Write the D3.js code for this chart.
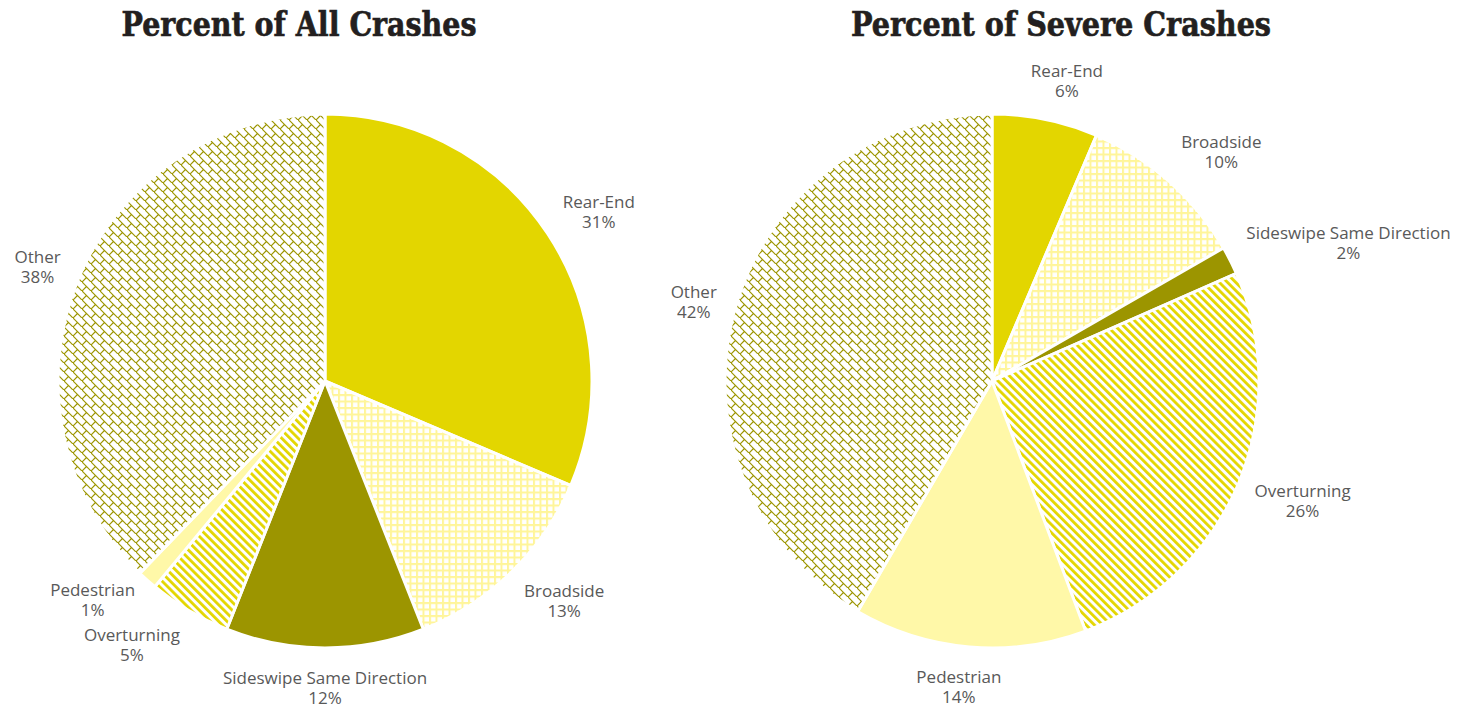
<!DOCTYPE html>
<html>
<head>
<meta charset="utf-8">
<script src="https://cdn.jsdelivr.net/npm/d3@7"></script>
<style>
  body { margin: 0; background: #fff; }
  .lbl { font-family: "Open Sans", sans-serif; font-size: 17px; fill: #595959; }
  .title { font-family: "DejaVu Serif", serif; font-weight: bold; fill: #231f20; stroke: #231f20; stroke-width: 0.7px; }
</style>
</head>
<body>
<div id="chart"></div>
<script>
const width = 1471;
const height = 708;

// data
const categories = ["Rear-End", "Broadside", "Sideswipe Same Direction", "Overturning", "Pedestrian", "Other"];
const allCrashes = [31.4, 12.6, 12.0, 5.0, 1.2, 37.8];
const severeCrashes = [6.4, 10.3, 1.7, 25.9, 14.1, 41.6];
const chartTitles = ["Percent of All Crashes", "Percent of Severe Crashes"];

const fills = ["#e3d600", "url(#grid)", "#9c9500", "url(#stripes)", "#fff8a8", "url(#brick)"];

const svg = d3.select("#chart")
  .append("svg")
  .attr("width", width)
  .attr("height", height);

// patterns
const defs = svg.append("defs");

const grid = defs.append("pattern")
  .attr("id", "grid")
  .attr("patternUnits", "userSpaceOnUse")
  .attr("width", 6.5).attr("height", 6.5);
grid.append("rect").attr("width", 6.5).attr("height", 6.5).attr("fill", "#fff");
grid.append("path").attr("d", "M0,1H6.5M1,0V6.5").attr("stroke", "#fff59a").attr("stroke-width", 2);

const stripes = defs.append("pattern")
  .attr("id", "stripes")
  .attr("patternUnits", "userSpaceOnUse")
  .attr("width", 10).attr("height", 5.8)
  .attr("patternTransform", "rotate(45)");
stripes.append("rect").attr("width", 10).attr("height", 5.8).attr("fill", "#fff");
stripes.append("path").attr("d", "M0,1.5H10").attr("stroke", "#e3d600").attr("stroke-width", 2.8);

const brick = defs.append("pattern")
  .attr("id", "brick")
  .attr("patternUnits", "userSpaceOnUse")
  .attr("width", 9).attr("height", 9);
brick.append("rect").attr("width", 9).attr("height", 9).attr("fill", "#fff");
brick.append("path").attr("d", "M0,0L9,9M0,9L4.5,4.5")
  .attr("stroke", "#9c9500").attr("stroke-width", 1.2).attr("fill", "none");

const radius = 267;
const centers = [[325, 381], [992, 381]];
const titleX = [299, 1061];
const titleW = [355, 420];

const pie = d3.pie().sort(null).value(d => d.value);
const arc = d3.arc().innerRadius(0).outerRadius(radius);

[allCrashes, severeCrashes].forEach((values, i) => {
  const data = categories.map((c, j) => ({ name: c, value: values[j], fill: fills[j] }));

  svg.append("text")
    .attr("class", "title")
    .attr("x", titleX[i])
    .attr("y", 36)
    .attr("text-anchor", "middle")
    .attr("font-size", 34)
    .attr("textLength", titleW[i])
    .attr("lengthAdjust", "spacingAndGlyphs")
    .text(chartTitles[i]);

  const g = svg.append("g")
    .attr("transform", `translate(${centers[i][0]}, ${centers[i][1]})`);

  const arcs = pie(data);

  g.selectAll("path.slice")
    .data(arcs)
    .join("path")
    .attr("class", "slice")
    .attr("d", arc)
    .attr("fill", d => d.data.fill)
    .attr("stroke", "#fff")
    .attr("stroke-width", 3);

  // labels outside the slices
  const labels = g.selectAll("text.lbl")
    .data(arcs)
    .join("text")
    .attr("class", "lbl")
    .attr("text-anchor", "middle");

  labels.append("tspan").attr("x", 0).attr("dy", 0).text(d => d.data.name);
  labels.append("tspan").attr("x", 0).attr("dy", 20).text(d => Math.round(d.data.value) + "%");

  const placed = [];
  labels.each(function(d) {
    const box = this.getBBox();
    const a = (d.startAngle + d.endAngle) / 2;
    const R = radius + 18;
    const kx = Math.max(-1, Math.min(1, Math.sin(a) * 2.5));
    const cx = Math.sin(a) * R + kx * box.width / 2;
    const cy = -Math.cos(a) * (R + box.height / 2);
    placed.push({ node: this, cx, cy, w: box.width, h: box.height, boxCy: box.y + box.height / 2, left: Math.sin(a) < 0 });
  });

  // push overlapping labels on the left side upward
  const leftSide = placed.filter(p => p.left).sort((p, q) => q.cy - p.cy);
  for (let k = 1; k < leftSide.length; k++) {
    const lo = leftSide[k - 1], up = leftSide[k];
    const overlapX = Math.abs(lo.cx - up.cx) < (lo.w + up.w) / 2;
    const minGap = (lo.h + up.h) / 2 + 2;
    if (overlapX && lo.cy - up.cy < minGap) up.cy = lo.cy - minGap;
  }

  placed.forEach(p => {
    d3.select(p.node).attr("transform", `translate(${p.cx}, ${p.cy - p.boxCy})`);
  });
});
</script>
</body>
</html>
